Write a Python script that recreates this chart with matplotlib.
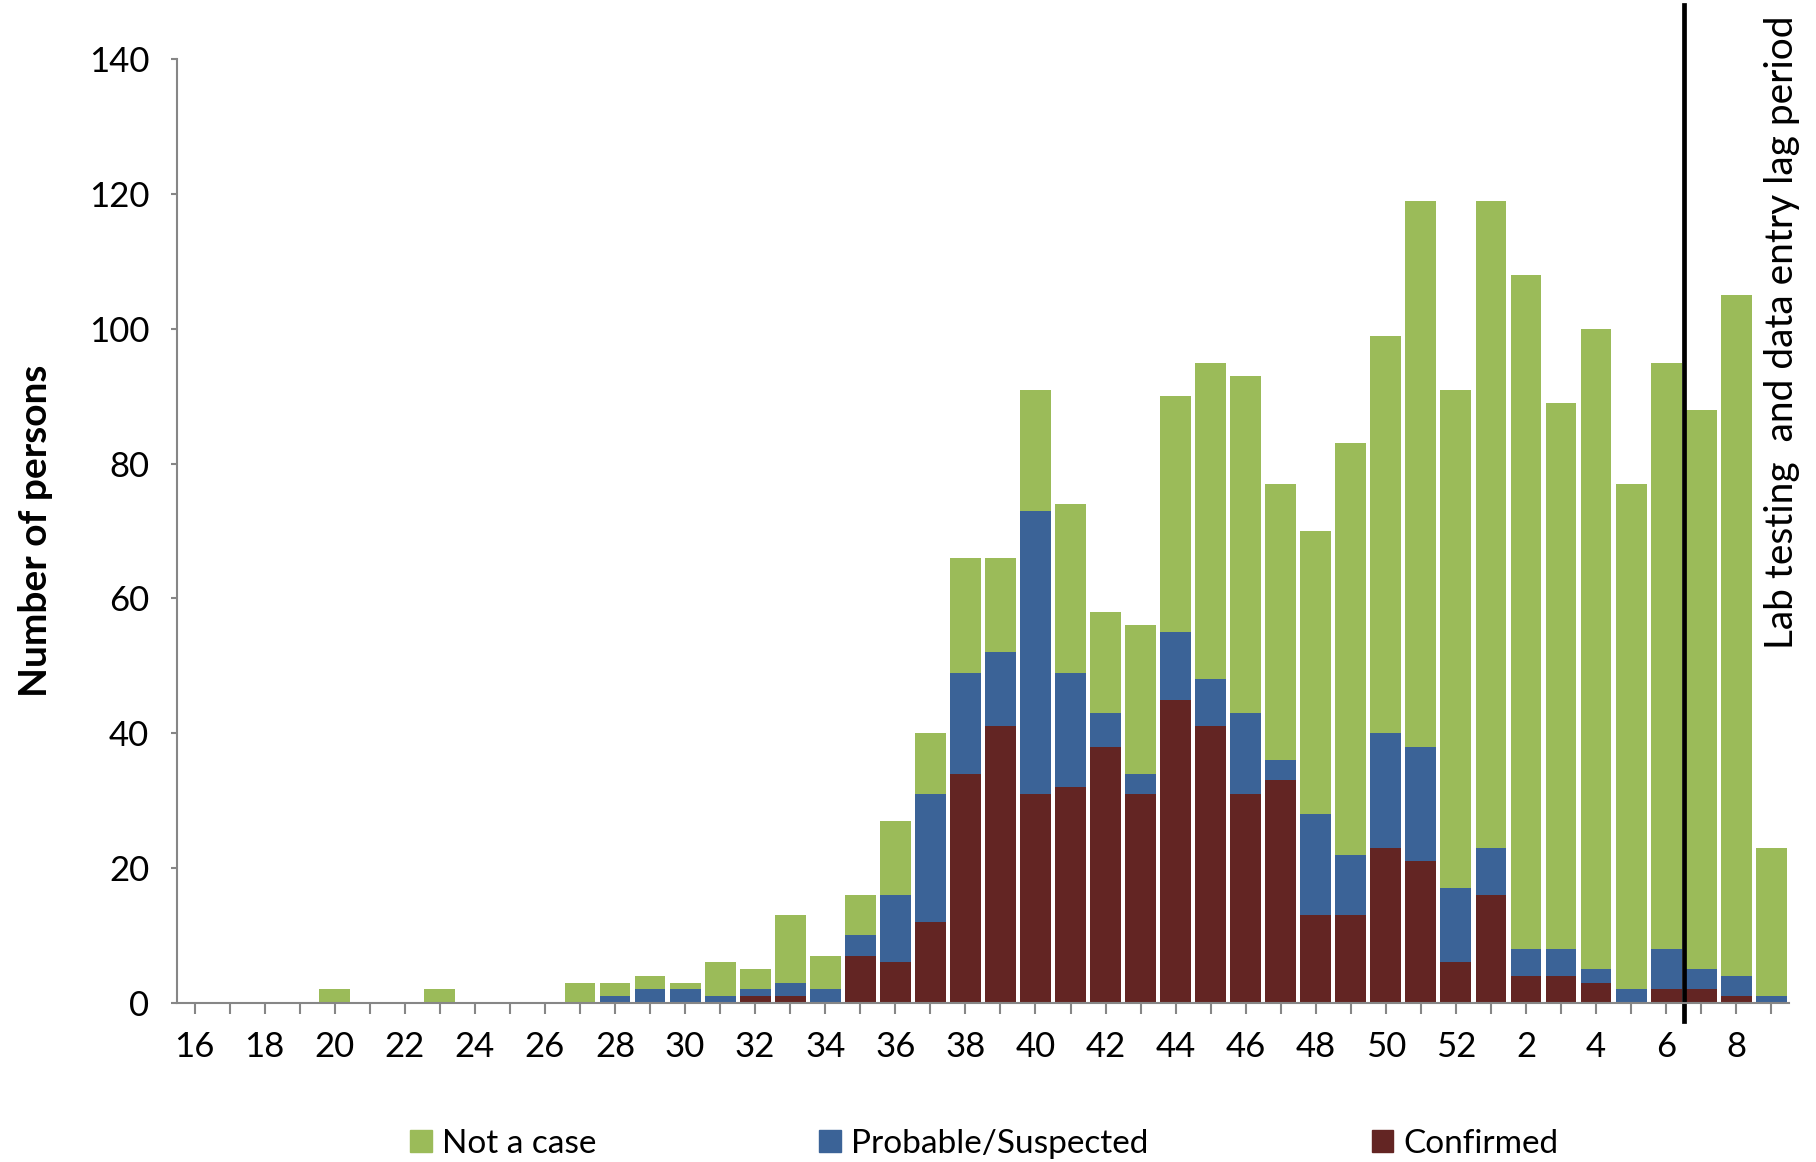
import matplotlib.pyplot as plt
import numpy as np
from matplotlib.patches import Patch

plt.rcParams["font.family"] = ["Lato", "DejaVu Sans"]

weeks = list(range(16, 53)) + list(range(1, 10))
# stacked top of each bar, top of the blue segment, confirmed
totals = [0, 0, 0, 0, 2, 0, 0, 2, 0, 0, 0, 3, 3, 4, 3, 6, 5, 13, 7, 16, 27, 40,
          66, 66, 91, 74, 58, 56, 90, 95, 93, 77, 70, 83, 99, 119, 91,
          119, 108, 89, 100, 77, 95, 88, 105, 23]
blue_tops = [0, 0, 0, 0, 0, 0, 0, 0, 0, 0, 0, 0, 1, 2, 2, 1, 2, 3, 2, 10, 16, 31,
             49, 52, 73, 49, 43, 34, 55, 48, 43, 36, 28, 22, 40, 38, 17,
             23, 8, 8, 5, 2, 8, 5, 4, 1]
confirmed = [0, 0, 0, 0, 0, 0, 0, 0, 0, 0, 0, 0, 0, 0, 0, 0, 1, 1, 0, 7, 6, 12,
             34, 41, 31, 32, 38, 31, 45, 41, 31, 33, 13, 13, 23, 21, 6,
             16, 4, 4, 3, 0, 2, 2, 1, 0]

confirmed = np.array(confirmed)
probable = np.array(blue_tops) - confirmed
not_case = np.array(totals) - np.array(blue_tops)

GREEN = "#9BBB59"
BLUE = "#3B6397"
RED = "#632523"

fig = plt.figure(figsize=(18.16, 11.62), dpi=100)
ax = fig.add_axes([0.0975, 0.137, 0.8875, 0.812])

x = np.arange(len(weeks))
w = 0.88
ax.bar(x, confirmed, width=w, color=RED)
ax.bar(x, probable, width=w, bottom=confirmed, color=BLUE)
ax.bar(x, not_case, width=w, bottom=confirmed + probable, color=GREEN)

ax.set_xlim(-0.5, len(weeks) - 0.5)
ax.set_ylim(0, 140)
ax.set_yticks(range(0, 141, 20))
ax.set_xticks(x)
ax.set_xticklabels([str(wk) if i % 2 == 0 else "" for i, wk in enumerate(weeks)])

for side in ["top", "right"]:
    ax.spines[side].set_visible(False)
for side in ["left", "bottom"]:
    ax.spines[side].set_color("#868686")
    ax.spines[side].set_linewidth(1.5)
ax.tick_params(axis="x", length=8, width=1.5, color="#868686", pad=12, labelsize=25)
ax.tick_params(axis="y", length=4, width=1.5, color="#868686", pad=16, labelsize=25)

ax.set_ylabel("Number of persons", fontsize=28, fontweight="bold", labelpad=26)

# lag period marker
ax.plot([42.5, 42.5], [-2.7, 148], color="black", lw=3.4, clip_on=False)
ax.text(45.3, 146.5, "Lab testing  and data entry lag period", rotation=90,
        ha="center", va="top", fontsize=28)

handles = [Patch(color=GREEN), Patch(color=BLUE), Patch(color=RED)]
fig.legend(handles, ["Not a case", "Probable/Suspected", "Confirmed"],
           loc="center", bbox_to_anchor=(0.542, 0.0155), ncol=3, frameon=False,
           fontsize=24, handlelength=0.65, handleheight=0.65, handletextpad=0.3,
           columnspacing=6.7)

fig.savefig("out.png", dpi=100)
